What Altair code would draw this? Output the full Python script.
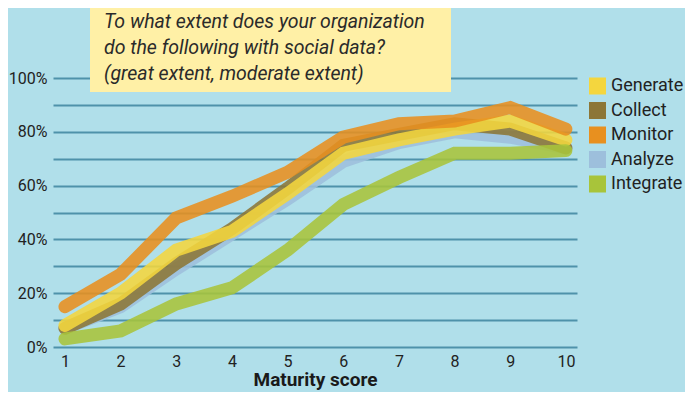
import altair as alt
import pandas as pd

scores = list(range(1, 11))
series_names = ["Generate", "Collect", "Monitor", "Analyze", "Integrate"]
generate = [8, 20, 36, 43, 57, 72, 77, 81, 84, 77]
collect = [7, 16, 31, 44, 59, 75, 79, 83, 81, 74]
monitor = [15, 27, 48, 56, 65, 78, 83, 84, 89, 81]
analyze = [7, 15, 29, 42, 55, 69, 76, 80, 78, 74]
integrate = [3, 6, 16, 22, 36, 53, 63, 72, 72, 73]
colors = ["#F4D63E", "#8C7637", "#E8901F", "#9DBFDC", "#A8C43A"]
draw_order = ["Analyze", "Collect", "Generate", "Integrate", "Monitor"]
y_ticks = list(range(0, 101, 10))
title_lines = [
    "To what extent does your organization",
    "do the following with social data?",
    "(great extent, moderate extent)",
]

FONT = "Roboto"

rows = []
for name, vals in zip(series_names, [generate, collect, monitor, analyze, integrate]):
    for s, v in zip(scores, vals):
        rows.append({"score": s, "pct": v, "series": name})
df = pd.DataFrame(rows)

color_scale = alt.Scale(domain=series_names, range=colors)

base = alt.Chart(df).mark_line(
    strokeWidth=13, strokeCap="round", strokeJoin="miter", opacity=0.88
).encode(
    x=alt.X(
        "score:Q",
        scale=alt.Scale(domain=[0.785, 10.2], nice=False, zero=False),
        axis=alt.Axis(
            values=scores, title="Maturity score", grid=False, ticks=False,
            domain=False, labelFontSize=16, labelPadding=6, labelColor="#222",
            labelFont=FONT, titleFont=FONT, titleFontSize=19,
            titleFontWeight="bold", titleColor="#1a1a1a", titlePadding=1,
        ),
    ),
    y=alt.Y(
        "pct:Q",
        scale=alt.Scale(domain=[0, 100], nice=False),
        axis=alt.Axis(
            values=y_ticks,
            labelExpr="datum.value % 20 == 0 ? datum.value + '%' : ''",
            grid=True, gridColor="#4E92AA", gridWidth=2, ticks=False,
            domain=False, title=None, labelPadding=6, labelFontSize=16,
            labelColor="#222", labelFont=FONT,
        ),
    ),
    color=alt.Color("series:N", scale=color_scale, legend=None),
)
line_layers = [base.transform_filter(alt.datum.series == name) for name in draw_order]
lines = alt.layer(*line_layers)

legend_df = pd.DataFrame({"series": series_names})
legend_y = alt.Y(
    "series:N",
    scale=alt.Scale(domain=series_names, range=[8, 106], padding=0),
    axis=None,
)
leg_sq = alt.Chart(legend_df).mark_square(size=289, opacity=1, filled=True).encode(
    x=alt.value(544.5), y=legend_y,
    color=alt.Color("series:N", scale=color_scale, legend=None),
)
leg_txt = alt.Chart(legend_df).mark_text(
    align="left", baseline="middle", fontSize=18, font=FONT, color="#222"
).encode(x=alt.value(558), y=legend_y, text="series:N")
legend = alt.layer(leg_sq, leg_txt)

box_df = pd.DataFrame({"t": ["\n".join(title_lines)]})
box = alt.Chart(box_df).mark_rect(color="#FFF0A6").encode(
    x=alt.value(37), x2=alt.value(398), y=alt.value(-70), y2=alt.value(14)
)
text = alt.Chart(box_df).mark_text(
    align="left", baseline="alphabetic", fontStyle="italic", fontSize=19.5,
    lineHeight=26, lineBreak="\n", color="#2a2a2a", font=FONT,
).encode(x=alt.value(51), y=alt.value(-50), text="t:N")

chart = alt.layer(lines, box, text, legend).resolve_scale(y="independent").properties(
    width=524, height=269,
    background="#B0DFEA",
    padding={"left": 45, "top": 70, "right": 108, "bottom": 45},
    autosize=alt.AutoSizeParams(type="none"),
).configure_view(stroke=None)

chart.save("out.html", embed_options={"renderer": "svg", "actions": False})
